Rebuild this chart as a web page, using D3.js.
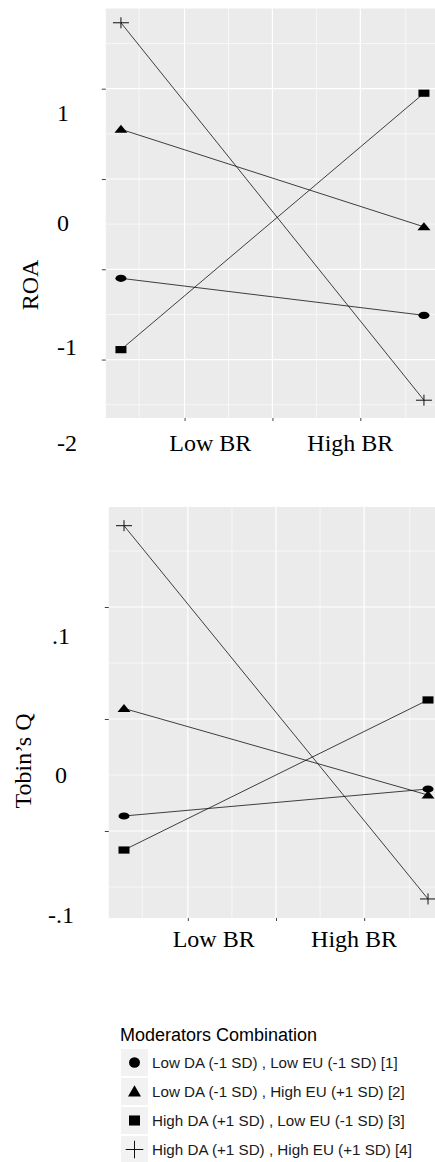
<!DOCTYPE html>
<html>
<head>
<meta charset="utf-8">
<script src="https://cdn.jsdelivr.net/npm/d3@7"></script>
<style>
  body { margin: 0; background: #fff; }
  svg { display: block; }
</style>
</head>
<body>
<script>
// series (moderator combinations)
const seriesNames = [
  'Low DA (-1 SD) , Low EU (-1 SD) [1]',
  'Low DA (-1 SD) , High EU (+1 SD) [2]',
  'High DA (+1 SD) , Low EU (-1 SD) [3]',
  'High DA (+1 SD) , High EU (+1 SD) [4]'
];
const shapes = ['circle', 'triangle', 'square', 'plus'];

// x: Low BR = 1, High BR = 2
const xPoints = [1, 2];
const xLabels = ['Low BR', 'High BR'];
const xLabelAt = [1.295, 1.757];
const xMajor = [1.21, 1.5, 1.79];
const xMinor = [1.06, 1.355, 1.645, 1.94];

// ROA values at Low BR / High BR
const roaLow = [-1.10, 0.55, -1.89, 1.73];
const roaHigh = [-1.51, -0.53, 0.95, -2.45];
const roaTicks = [1, 0, -1, -2];
const roaMinor = [1.5, 0.5, -0.5, -1.5, -2.5];
const roaTickLabels = ['1', '0', '-1', '-2'];
const roaLabelAt = [0.74, -0.48, -1.86, -2.92];

// Tobin's Q values at Low BR / High BR
const tobinLow = [-0.0866, 0.0094, -0.117, 0.1726];
const tobinHigh = [-0.0625, -0.0679, 0.017, -0.1607];
const tobinTicks = [0.1, 0, -0.1];
const tobinMinor = [0.15, 0.05, -0.05, -0.15];
const tobinTickLabels = ['.1', '0', '-.1'];
const tobinLabelAt = [0.0745, -0.05, -0.175];

const width = 435;
const height = 1162;

const svg = d3.select('body')
  .append('svg')
  .attr('width', width)
  .attr('height', height);

function drawShape(g, shape, cx, cy, sx, sy) {
  if (shape === 'circle') {
    g.append('ellipse').attr('cx', cx).attr('cy', cy)
      .attr('rx', 5.5 * sx).attr('ry', 3.6 * sy).attr('fill', '#000');
  } else if (shape === 'triangle') {
    g.append('path')
      .attr('d', `M${cx},${cy - 4.5 * sy}L${cx + 6.5 * sx},${cy + 3.5 * sy}L${cx - 6.5 * sx},${cy + 3.5 * sy}Z`)
      .attr('fill', '#000');
  } else if (shape === 'square') {
    g.append('rect').attr('x', cx - 5.5 * sx).attr('y', cy - 3.6 * sy)
      .attr('width', 11 * sx).attr('height', 7.2 * sy).attr('fill', '#000');
  } else {
    g.append('path')
      .attr('d', `M${cx - 8 * sx},${cy}H${cx + 8 * sx}M${cx},${cy - 5.5 * sy}V${cy + 5.5 * sy}`)
      .attr('stroke', '#111').attr('stroke-width', 1).attr('fill', 'none');
  }
}

function drawPanel(p) {
  const x = d3.scaleLinear().domain([0.95, 2.05]).range(p.xRange);
  const y = d3.scaleLinear().domain(p.yDomain).range(p.yRange);
  const g = svg.append('g');

  g.append('rect')
    .attr('x', p.xRange[0]).attr('y', p.yRange[1])
    .attr('width', p.xRange[1] - p.xRange[0])
    .attr('height', p.yRange[0] - p.yRange[1])
    .attr('fill', '#ebebeb');

  // grid
  g.selectAll('.hminor').data(p.minor).enter().append('line')
    .attr('x1', p.xRange[0]).attr('x2', p.xRange[1])
    .attr('y1', d => y(d)).attr('y2', d => y(d))
    .attr('stroke', '#fff').attr('stroke-width', 0.6);
  g.selectAll('.vminor').data(xMinor).enter().append('line')
    .attr('x1', d => x(d)).attr('x2', d => x(d))
    .attr('y1', p.yRange[0]).attr('y2', p.yRange[1])
    .attr('stroke', '#fff').attr('stroke-width', 0.6);
  g.selectAll('.hmajor').data(p.ticks).enter().append('line')
    .attr('x1', p.xRange[0]).attr('x2', p.xRange[1])
    .attr('y1', d => y(d)).attr('y2', d => y(d))
    .attr('stroke', '#fff').attr('stroke-width', 1.2);
  g.selectAll('.vmajor').data(xMajor).enter().append('line')
    .attr('x1', d => x(d)).attr('x2', d => x(d))
    .attr('y1', p.yRange[0]).attr('y2', p.yRange[1])
    .attr('stroke', '#fff').attr('stroke-width', 1.2);

  // axis ticks without labels (labels are placed separately, as in the figure)
  g.append('g')
    .attr('transform', `translate(${p.xRange[0]},0)`)
    .call(d3.axisLeft(y).tickValues(p.ticks).tickSize(4).tickFormat(''))
    .call(a => a.select('.domain').remove())
    .call(a => a.selectAll('line').attr('stroke', '#444'));
  g.append('g')
    .attr('transform', `translate(0,${p.yRange[0]})`)
    .call(d3.axisBottom(x).tickValues(xMajor).tickSize(3).tickFormat(''))
    .call(a => a.select('.domain').remove())
    .call(a => a.selectAll('line').attr('stroke', '#444'));

  // tick labels
  g.selectAll('.ylab').data(p.tickLabels).enter().append('text')
    .attr('x', p.yLabelX)
    .attr('y', (d, i) => y(p.labelAt[i]))
    .attr('dy', '0.35em')
    .attr('text-anchor', p.yLabelAnchor)
    .attr('font-family', '"Liberation Serif", "Times New Roman", serif')
    .attr('font-size', 24)
    .attr('fill', '#000')
    .text(d => d);
  g.selectAll('.xlab').data(xLabels).enter().append('text')
    .attr('x', (d, i) => x(xLabelAt[i]))
    .attr('y', p.xLabelY)
    .attr('text-anchor', 'middle')
    .attr('font-family', '"Liberation Serif", "Times New Roman", serif')
    .attr('font-size', 24)
    .attr('fill', '#000')
    .text(d => d);

  g.append('text')
    .attr('transform', `translate(${p.titlePos[0]},${p.titlePos[1]}) rotate(-90)`)
    .attr('text-anchor', 'middle')
    .attr('dy', '0.35em')
    .attr('font-family', '"Liberation Serif", "Times New Roman", serif')
    .attr('font-size', 24)
    .attr('fill', '#000')
    .text(p.title);

  // lines and points
  seriesNames.forEach((name, i) => {
    const vals = [p.low[i], p.high[i]];
    g.append('line')
      .attr('x1', x(xPoints[0])).attr('y1', y(vals[0]))
      .attr('x2', x(xPoints[1])).attr('y2', y(vals[1]))
      .attr('stroke', '#111').attr('stroke-width', 0.8);
    vals.forEach((v, j) => drawShape(g, shapes[i], x(xPoints[j]), y(v), 1, 1));
  });
}

drawPanel({
  xRange: [105.8, 439.1],
  yDomain: [-2.647, 1.888],
  yRange: [418, 8.5],
  ticks: roaTicks,
  minor: roaMinor,
  tickLabels: roaTickLabels,
  labelAt: roaLabelAt,
  yLabelX: 57,
  yLabelAnchor: 'start',
  xLabelY: 451,
  title: 'ROA',
  titlePos: [30, 285],
  low: roaLow,
  high: roaHigh
});

drawPanel({
  xRange: [108.8, 443.2],
  yDomain: [-0.1777, 0.1893],
  yRange: [918, 507],
  ticks: tobinTicks,
  minor: tobinMinor,
  tickLabels: tobinTickLabels,
  labelAt: tobinLabelAt,
  yLabelX: 61,
  yLabelAnchor: 'middle',
  xLabelY: 947,
  title: 'Tobin\u2019s Q',
  titlePos: [23, 761],
  low: tobinLow,
  high: tobinHigh
});

// legend
const legend = svg.append('g');
legend.append('text')
  .attr('x', 120).attr('y', 1041)
  .attr('font-family', '"Liberation Sans", Arial, sans-serif')
  .attr('font-size', 18)
  .attr('fill', '#000')
  .text('Moderators Combination');

const keys = legend.selectAll('.key').data(seriesNames).enter().append('g')
  .attr('transform', (d, i) => `translate(121,${1049 + i * 29})`);
keys.append('rect')
  .attr('width', 27).attr('height', 27)
  .attr('fill', '#f2f2f2');
keys.each(function (d, i) {
  const k = d3.select(this);
  drawShape(k, shapes[i], 13.5, 13.5, i === 3 ? 1.1 : 1, i === 3 ? 1.6 : (i === 0 ? 1.45 : 1.4));
});
keys.append('text')
  .attr('x', 31).attr('y', 13.5)
  .attr('dy', '0.35em')
  .attr('font-family', '"Liberation Sans", Arial, sans-serif')
  .attr('font-size', 15.2)
  .attr('fill', '#1a1a1a')
  .text(d => d);
</script>
</body>
</html>
